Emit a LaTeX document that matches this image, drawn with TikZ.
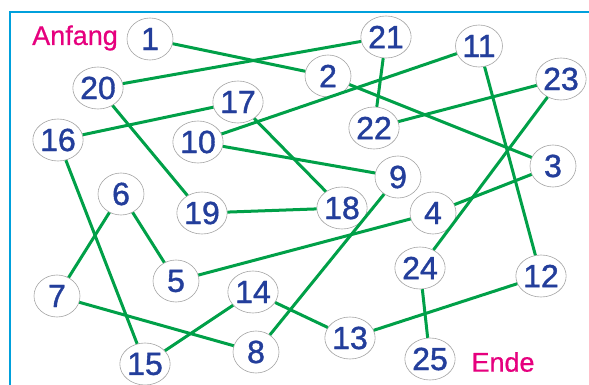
\documentclass[tikz,border=0pt]{standalone}
\usepackage{fontspec}
\setmainfont{Liberation Sans}
\newfontfamily\numfont[FakeBold=1.2]{Liberation Sans}
\newfontfamily\tagfont[FakeBold=0.6]{Liberation Sans}
\usetikzlibrary{shapes.geometric}
\definecolor{numblue}{RGB}{35,62,155}
\definecolor{edgegreen}{RGB}{0,160,72}
\definecolor{framecyan}{RGB}{0,160,220}
\definecolor{labelpink}{RGB}{230,0,126}
\begin{document}
\begin{tikzpicture}[x=1pt,y=-1pt,
  num/.style={ellipse,draw=gray!70,line width=0.6pt,fill=white,inner sep=0pt,
    minimum width=46pt,minimum height=42pt,text=numblue,
    font=\numfont\fontsize{32}{32}\selectfont},
  link/.style={draw=edgegreen,line width=3pt},
  tag/.style={text=labelpink,font=\tagfont\fontsize{27}{27}\selectfont}]
\useasboundingbox (0,0) rectangle (589,385);
\fill[white] (0,0) rectangle (589,385);
\draw[framecyan,line width=2.2pt] (10,400) -- (10,12) -- (600,12);
\node[tag] (anfang) at (75,38) {Anfang};
\node[tag] (ende) at (503,362) {Ende};
\node[num] (n1) at (150,39) {1};
\node[num] (n2) at (328,76) {2};
\node[num] (n3) at (553,166) {3};
\node[num] (n4) at (433,213) {4};
\node[num] (n5) at (176,281) {5};
\node[num] (n6) at (121,194) {6};
\node[num] (n7) at (57,296) {7};
\node[num] (n8) at (256,352) {8};
\node[num] (n9) at (398,177) {9};
\node[num] (n10) at (198,142) {10};
\node[num] (n11) at (479,46) {11};
\node[num] (n12) at (541,276) {12};
\node[num] (n13) at (350,338) {13};
\node[num] (n14) at (253,292) {14};
\node[num] (n15) at (145,364) {15};
\node[num] (n16) at (58,140) {16};
\node[num] (n17) at (238,102) {17};
\node[num] (n18) at (342,208) {18};
\node[num] (n19) at (202,213) {19};
\node[num] (n20) at (98,88) {20};
\node[num] (n21) at (386,37) {21};
\node[num] (n22) at (374,128) {22};
\node[num] (n23) at (561,79) {23};
\node[num] (n24) at (420,268) {24};
\node[num] (n25) at (430,359) {25};
\foreach \a/\b in {1/2,2/3,3/4,4/5,5/6,6/7,7/8,8/9,9/10,10/11,11/12,12/13,
  13/14,14/15,15/16,16/17,17/18,18/19,19/20,20/21,21/22,22/23,23/24,24/25}
  \draw[link] (n\a) -- (n\b);
\end{tikzpicture}
\end{document}
